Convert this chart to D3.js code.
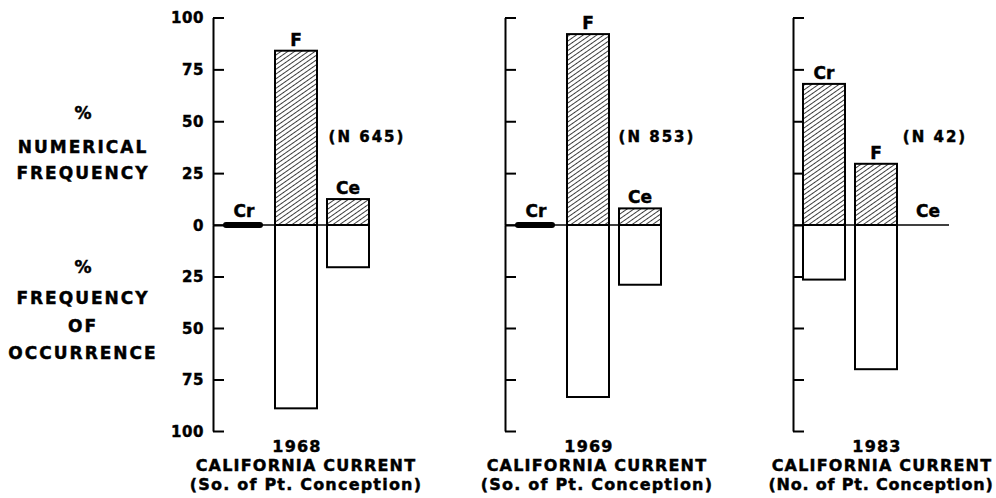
<!DOCTYPE html>
<html>
<head>
<meta charset="utf-8">
<script src="https://cdn.jsdelivr.net/npm/d3@7"></script>
<style>
  body { margin: 0; background: #fff; }
  svg text { font-family: 'DejaVu Sans', sans-serif; font-weight: bold; fill: #000; stroke: #000; stroke-width: 0.45px; }
</style>
</head>
<body>
<div id="chart"></div>
<script>
// Food categories: Cr = crustaceans, F = fish, Ce = cephalopods
var categories = ['Cr', 'F', 'Ce'];
var years = ['1968', '1969', '1983'];
var regions = ['(So. of Pt. Conception)', '(So. of Pt. Conception)', '(No. of Pt. Conception)'];
var sampleSizes = [645, 853, 42];

// % numerical frequency (upper bars). 0.5 = trace, drawn as a thick black bar
var numerical1968 = [0.5, 84, 12.5];
var numerical1969 = [0.5, 92, 8];
var numerical1983 = [68, 29.5, 0];

// % frequency of occurrence (lower bars)
var occurrence1968 = [0, 89, 20.5];
var occurrence1969 = [0, 83.5, 29];
var occurrence1983 = [26.5, 70, 0];

var upperTicks = [0, 25, 50, 75, 100];
var lowerTicks = [25, 50, 75, 100];

var numerical = [numerical1968, numerical1969, numerical1983];
var occurrence = [occurrence1968, occurrence1969, occurrence1983];

var width = 996, height = 498;
var axisX = [213, 505, 793];
var traceLimit = 2;

var svg = d3.select('#chart').append('svg')
  .attr('width', width)
  .attr('height', height);

// diagonal hatching for the upper bars, lines rising to the right
svg.append('defs').append('pattern')
  .attr('id', 'hatch')
  .attr('patternUnits', 'userSpaceOnUse')
  .attr('width', 3.9)
  .attr('height', 3.9)
  .attr('patternTransform', 'rotate(55)')
  .append('line')
    .attr('x1', 0).attr('y1', 0)
    .attr('x2', 0).attr('y2', 3.9)
    .attr('stroke', '#000')
    .attr('stroke-width', 1.5);

var yUp = d3.scaleLinear().domain([0, 100]).range([225, 17.5]);
var yDown = d3.scaleLinear().domain([0, 100]).range([225, 431]);

// left hand titles
var leftTitles = [
  {lines: ['%', 'NUMERICAL', 'FREQUENCY'], y: [119, 153, 179]},
  {lines: ['%', 'FREQUENCY', 'OF', 'OCCURRENCE'], y: [273, 304, 332, 359]}
];
leftTitles.forEach(function(t) {
  t.lines.forEach(function(line, i) {
    svg.append('text')
      .attr('x', 83)
      .attr('y', t.y[i])
      .attr('text-anchor', 'middle')
      .style('font-size', '17px')
      .style('letter-spacing', line === '%' ? '0px' : '2px')
      .text(line);
  });
});

years.forEach(function(year, p) {
  var x0 = axisX[p];
  var g = svg.append('g');

  var x = d3.scaleBand()
    .domain(categories)
    .range([x0 + 10, x0 + 156])
    .paddingInner(10 / 52)
    .paddingOuter(0);

  var showLabels = p === 0;

  var upAxis = d3.axisLeft(yUp)
    .tickValues(upperTicks)
    .tickSizeInner(-11)
    .tickSizeOuter(0)
    .tickPadding(9)
    .tickFormat(showLabels ? d3.format('d') : '');

  var downAxis = d3.axisLeft(yDown)
    .tickValues(lowerTicks)
    .tickSizeInner(-11)
    .tickSizeOuter(0)
    .tickPadding(9)
    .tickFormat(showLabels ? d3.format('d') : '');

  [upAxis, downAxis].forEach(function(ax) {
    var a = g.append('g')
      .attr('transform', 'translate(' + x0 + ',0)')
      .call(ax);
    a.selectAll('path, line').attr('stroke', '#000').attr('stroke-width', 2);
    a.selectAll('text')
      .style('font-size', '15px')
      .style('font-family', "'DejaVu Sans', sans-serif")
      .style('font-weight', 'bold')
      .style('letter-spacing', '0.6px')
      .attr('dy', '0.36em');
  });

  var up = categories.map(function(c, i) { return {cat: c, v: numerical[p][i]}; });
  var down = categories.map(function(c, i) { return {cat: c, v: occurrence[p][i]}; });

  // lower bars: frequency of occurrence (open)
  g.selectAll('rect.down')
    .data(down.filter(function(d) { return d.v >= traceLimit; }))
    .enter().append('rect')
      .attr('class', 'down')
      .attr('x', function(d) { return x(d.cat); })
      .attr('y', yDown(0))
      .attr('width', x.bandwidth())
      .attr('height', function(d) { return yDown(d.v) - yDown(0); })
      .attr('fill', '#fff')
      .attr('stroke', '#000')
      .attr('stroke-width', 2);

  // upper bars: numerical frequency (hatched)
  g.selectAll('rect.up')
    .data(up.filter(function(d) { return d.v >= traceLimit; }))
    .enter().append('rect')
      .attr('class', 'up')
      .attr('x', function(d) { return x(d.cat); })
      .attr('y', function(d) { return yUp(d.v); })
      .attr('width', x.bandwidth())
      .attr('height', function(d) { return yUp(0) - yUp(d.v); })
      .attr('fill', 'url(#hatch)')
      .attr('stroke', '#000')
      .attr('stroke-width', 2);

  // zero line
  g.append('line')
    .attr('x1', x0)
    .attr('x2', x0 + 156)
    .attr('y1', yUp(0))
    .attr('y2', yUp(0))
    .attr('stroke', '#000')
    .attr('stroke-width', 1.6);

  // trace amounts: thick rounded black bar on the zero line
  g.selectAll('rect.trace')
    .data(up.filter(function(d) { return d.v > 0 && d.v < traceLimit; }))
    .enter().append('rect')
      .attr('class', 'trace')
      .attr('x', function(d) { return x(d.cat); })
      .attr('y', yUp(0) - 3)
      .attr('width', x.bandwidth() - 2)
      .attr('height', 6)
      .attr('rx', 3)
      .attr('fill', '#000');

  // category labels above the bars
  g.selectAll('text.cat')
    .data(up)
    .enter().append('text')
      .attr('class', 'cat')
      .attr('x', function(d) { return x(d.cat) + x.bandwidth() / 2; })
      .attr('y', function(d) {
        if (d.v < traceLimit) return yUp(0) - 8;
        return yUp(d.v) - 5;
      })
      .attr('text-anchor', 'middle')
      .style('font-size', '17px')
      .text(function(d) { return d.cat; });

  // sample size
  g.append('text')
    .attr('x', x0 + [154, 152, 142][p])
    .attr('y', 142)
    .attr('text-anchor', 'middle')
    .style('font-size', '15px')
    .style('letter-spacing', '2px')
    .text('(N ' + sampleSizes[p] + ')');

  // captions underneath
  g.append('text')
    .attr('x', x0 + 84)
    .attr('y', 452)
    .attr('text-anchor', 'middle')
    .style('font-size', '16px')
    .style('letter-spacing', '1.2px')
    .text(year);

  g.append('text')
    .attr('x', x0 + [93, 92, 89][p])
    .attr('y', 471)
    .attr('text-anchor', 'middle')
    .style('font-size', '16px')
    .style('letter-spacing', '1.2px')
    .text('CALIFORNIA CURRENT');

  g.append('text')
    .attr('x', x0 + [93, 92, 88][p])
    .attr('y', 490)
    .attr('text-anchor', 'middle')
    .style('font-size', '16px')
    .style('letter-spacing', p === 2 ? '0.8px' : '1.2px')
    .text(regions[p]);
});
</script>
</body>
</html>
